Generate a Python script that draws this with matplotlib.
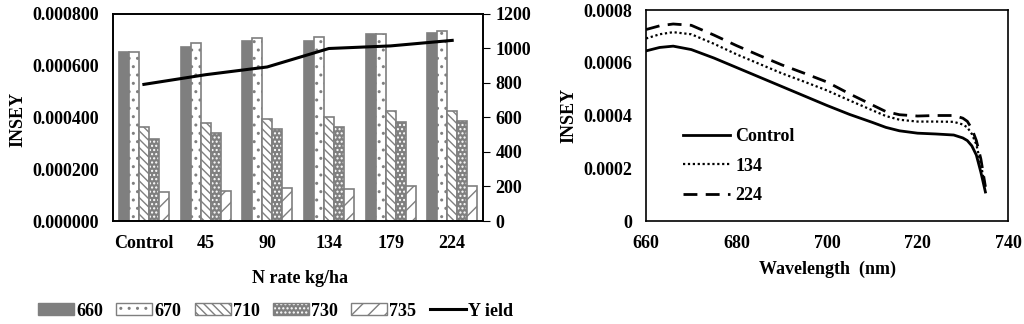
import numpy as np
import matplotlib
matplotlib.use('Agg')
import matplotlib.pyplot as plt
from matplotlib.ticker import FuncFormatter

plt.rcParams['font.family'] = ['Liberation Serif', 'DejaVu Serif']
plt.rcParams['font.weight'] = 'bold'
plt.rcParams['axes.labelweight'] = 'bold'
plt.rcParams['font.size'] = 13
plt.rcParams['hatch.linewidth'] = 1.0

# bar chart data
rates = ['Control', '45', '90', '134', '179', '224']
insey_660 = [0.000652, 0.000673, 0.000696, 0.000696, 0.000721, 0.000726]
insey_670 = [0.000654, 0.000686, 0.000706, 0.000711, 0.000721, 0.000735]
insey_710 = [0.000365, 0.000379, 0.000396, 0.000401, 0.000427, 0.000427]
insey_730 = [0.000315, 0.000339, 0.000355, 0.000365, 0.000381, 0.000386]
insey_735 = [0.000113, 0.000117, 0.000127, 0.000122, 0.000137, 0.000137]
yield_kg = [792, 848, 893, 1000, 1015, 1047]

# spectral curves
wavelength = [660, 663, 666, 670, 675, 680, 685, 690, 695, 700, 705, 710,
              713, 716, 720, 724, 728, 730, 731, 732, 733, 734, 735]
curve_control = [0.000645, 0.000658, 0.000663, 0.000650, 0.000618, 0.000582,
                 0.000546, 0.000510, 0.000474, 0.000438, 0.000404, 0.000374,
                 0.000355, 0.000342, 0.000333, 0.000330, 0.000326, 0.000315,
                 0.000305, 0.000285, 0.000250, 0.000185, 0.000110]
curve_134 = [0.000692, 0.000708, 0.000716, 0.000708, 0.000672, 0.000632,
             0.000596, 0.000560, 0.000528, 0.000495, 0.000457, 0.000420,
             0.000398, 0.000384, 0.000377, 0.000377, 0.000376, 0.000366,
             0.000355, 0.000330, 0.000290, 0.000215, 0.000125]
curve_224 = [0.000726, 0.000740, 0.000747, 0.000742, 0.000705, 0.000665,
             0.000628, 0.000592, 0.000560, 0.000527, 0.000482, 0.000440,
             0.000415, 0.000403, 0.000398, 0.000400, 0.000400, 0.000390,
             0.000378, 0.000350, 0.000305, 0.000235, 0.000130]

gray = '#7f7f7f'
fig = plt.figure(figsize=(10.24, 3.24), dpi=100)

# ---- left: bars + yield ----
ax = fig.add_axes([0.1104, 0.3179, 0.3613, 0.6389])
x = np.arange(len(rates))
w = 0.162
series = [
    ('660', insey_660, gray, None, gray),
    ('670', insey_670, 'white', '..', gray),
    ('710', insey_710, 'white', '\\\\\\\\', gray),
    ('730', insey_730, gray, '....', 'white'),
    ('735', insey_735, 'white', '//', gray),
]
handles = []
for i, (lab, vals, fc, hatch, hc) in enumerate(series):
    pos = x + (i - 2) * w
    # fill + hatch
    ax.bar(pos, vals, w, color=fc, edgecolor=hc, linewidth=0, hatch=hatch)
    # outline
    ax.bar(pos, vals, w, facecolor='none', edgecolor=gray, linewidth=1.2)
    h_fill = plt.Rectangle((0, 0), 1, 1, facecolor=fc, edgecolor=hc, hatch=hatch, linewidth=0)
    h_edge = plt.Rectangle((0, 0), 1, 1, facecolor='none', edgecolor=gray, linewidth=1.0)
    handles.append(((h_fill, h_edge), lab))

ax.set_xlim(-0.5, 5.5)
ax.set_ylim(0, 0.0008)
ax.set_yticks(np.arange(0, 0.00081, 0.0002))
ax.yaxis.set_major_formatter(FuncFormatter(lambda v, p: '%.6f' % v))
ax.set_xticks(x)
ax.set_xticklabels(rates)
ax.tick_params(axis='both', length=0, pad=10)
ax.set_ylabel('INSEY')
ax.yaxis.set_label_coords(-0.235, 0.49)
ax.set_xlabel('N rate kg/ha')
ax.xaxis.set_label_coords(0.505, -0.235)

ax2 = ax.twinx()
ln, = ax2.plot(x, yield_kg, color='black', lw=2.2)
ax2.set_ylim(0, 1200)
ax2.set_yticks(np.arange(0, 1201, 200))
ax2.tick_params(axis='y', direction='out', length=5, pad=4)
for a in (ax, ax2):
    for s in a.spines.values():
        s.set_linewidth(1.2)

leg_handles = [h for h, l in handles] + [ln]
leg_labels = [l for h, l in handles] + ['Y ield']
fig.legend(leg_handles, leg_labels, loc='center left', bbox_to_anchor=(38 / 1024, 1 - 311 / 324),
           ncol=6, frameon=False, handlelength=2.0, handleheight=0.6,
           handletextpad=0.1, columnspacing=0.75, borderpad=0, borderaxespad=0)

# ---- right: spectra ----
bx = fig.add_axes([0.6309, 0.3179, 0.3535, 0.6512])
bx.plot(wavelength, curve_control, color='black', lw=2.0, label='Control')
bx.plot(wavelength, curve_134, color='black', lw=1.6, linestyle=(0, (1, 1.2)), label='134')
bx.plot(wavelength, curve_224, color='black', lw=2.0, linestyle=(0, (5, 3)), label='224')
bx.set_xlim(660, 740)
bx.set_ylim(0, 0.0008)
bx.set_xticks([660, 680, 700, 720, 740])
bx.set_yticks(np.arange(0, 0.00081, 0.0002))
bx.yaxis.set_major_formatter(FuncFormatter(lambda v, p: '0' if v == 0 else '%.4f' % v))
bx.tick_params(axis='both', length=0, pad=10)
for s in bx.spines.values():
    s.set_linewidth(1.2)
bx.set_ylabel('INSEY')
bx.yaxis.set_label_coords(-0.19, 0.5)
bx.set_xlabel('Wavelength  (nm)')
bx.xaxis.set_label_coords(0.5, -0.19)
bx.legend(loc='center left', bbox_to_anchor=(0.077, 0.26), frameon=False,
          handlelength=2.6, handletextpad=0.3, labelspacing=0.7, borderpad=0)

fig.savefig('out.png', dpi=100)
